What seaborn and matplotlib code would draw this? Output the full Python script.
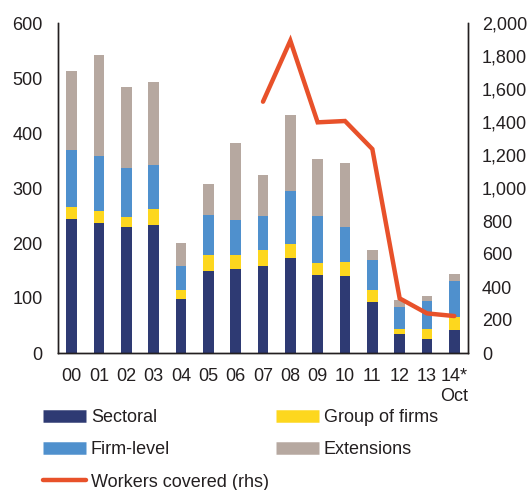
import numpy as np
import pandas as pd
import matplotlib
matplotlib.use("Agg")
import matplotlib.pyplot as plt
from matplotlib.lines import Line2D
from matplotlib.ticker import FuncFormatter
import seaborn as sns

# Collective agreements by type (left axis) and workers covered (right axis)
years = ["00", "01", "02", "03", "04", "05", "06", "07", "08", "09", "10", "11", "12", "13", "14*\nOct"]
sectoral = [244, 237, 230, 232, 99, 150, 152, 159, 172, 141, 140, 92, 35, 26, 42]
group_of_firms = [22, 22, 18, 30, 15, 28, 26, 28, 26, 22, 25, 23, 9, 18, 24]
firm_level = [103, 100, 88, 79, 45, 73, 64, 63, 97, 87, 65, 55, 40, 50, 65]
extensions = [144, 182, 147, 152, 41, 56, 139, 74, 138, 102, 116, 17, 12, 9, 12]
workers_years = ["07", "08", "09", "10", "11", "12", "13", "14*\nOct"]
workers_covered = [1523, 1893, 1398, 1406, 1236, 331, 240, 224]

c_sect = "#2E3A73"
c_group = "#FDD71E"
c_firm = "#4F90CD"
c_ext = "#B6A8A0"
c_line = "#E8512A"

sns.set_theme(style="white")
plt.rcParams["font.family"] = ["Liberation Sans", "DejaVu Sans"]
plt.rcParams["font.size"] = 13

df = pd.DataFrame({
    "year": years,
    "sectoral": sectoral,
    "group": group_of_firms,
    "firm": firm_level,
    "ext": extensions,
})
df["c1"] = df["sectoral"]
df["c2"] = df["c1"] + df["group"]
df["c3"] = df["c2"] + df["firm"]
df["c4"] = df["c3"] + df["ext"]

fig = plt.figure(figsize=(5.31, 4.90), dpi=100)
ax = fig.add_axes([58 / 531, 1 - 353 / 490, 410 / 531, 330 / 490])

# stacked bars drawn as overlapping cumulative totals
for col, color in [("c4", c_ext), ("c3", c_firm), ("c2", c_group), ("c1", c_sect)]:
    sns.barplot(data=df, x="year", y=col, color=color, width=0.4,
                saturation=1, edgecolor="none", ax=ax, order=years)

ax.set_xlim(-0.5, len(years) - 0.5)
ax.set_ylim(0, 600)
ax.set_yticks(range(0, 601, 100))
ax.set_xlabel("")
ax.set_ylabel("")
ax.tick_params(axis="both", length=0, labelsize=13, colors="#231F20")
ax.tick_params(axis="x", pad=11)
ax.tick_params(axis="y", pad=11)

ax2 = ax.twinx()
xpos = [years.index(y) for y in workers_years]
wdf = pd.DataFrame({"x": xpos, "workers": workers_covered})
sns.lineplot(data=wdf, x="x", y="workers", color=c_line, linewidth=3.2, ax=ax2,
             solid_joinstyle="miter")
ax2.set_ylim(0, 2000)
ax2.set_yticks(range(0, 2001, 200))
ax2.yaxis.set_major_formatter(FuncFormatter(lambda v, p: f"{int(v):,}"))
ax2.set_ylabel("")
ax2.set_xlabel("")
ax2.tick_params(axis="y", length=0, labelsize=13, pad=10, colors="#231F20")
ax.set_xlim(-0.5, len(years) - 0.5)

for a in (ax, ax2):
    for side in ("left", "right", "bottom"):
        a.spines[side].set_visible(True)
        a.spines[side].set_color("#231F20")
        a.spines[side].set_linewidth(1.0)
    a.spines["top"].set_visible(False)

handles = [
    Line2D([], [], color=c_sect, linewidth=9, solid_capstyle="butt"),
    Line2D([], [], color=c_firm, linewidth=9, solid_capstyle="butt"),
    Line2D([], [], color=c_line, linewidth=3.2, solid_capstyle="round"),
    Line2D([], [], color=c_group, linewidth=9, solid_capstyle="butt"),
    Line2D([], [], color=c_ext, linewidth=9, solid_capstyle="butt"),
]
labels = ["Sectoral", "Firm-level", "Workers covered (rhs)", "Group of firms", "Extensions"]
fig.legend(handles, labels, ncol=2, loc="upper left", bbox_to_anchor=(43 / 531, 1 - 409 / 490),
           frameon=False, fontsize=13, handlelength=2.4, handletextpad=0.25,
           columnspacing=0.4, labelspacing=0.85, borderpad=0, borderaxespad=0,
           labelcolor="#231F20")

fig.savefig("out.png", dpi=100)
